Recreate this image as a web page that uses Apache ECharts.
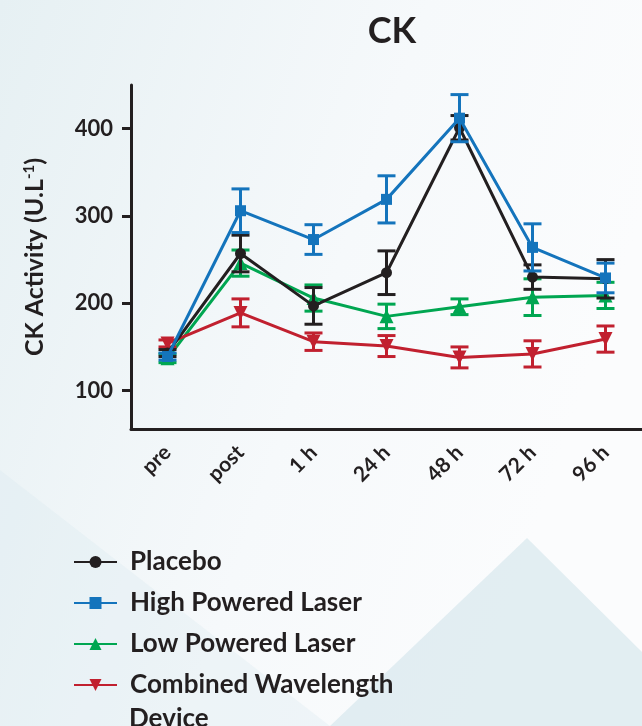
<!DOCTYPE html>
<html>
<head>
<meta charset="utf-8">
<script src="https://cdn.jsdelivr.net/npm/echarts@6/dist/echarts.min.js"></script>
<style>
  html, body { margin: 0; padding: 0; }
  #main { width: 642px; height: 726px; }
</style>
</head>
<body>
<div id="main"></div>
<script>
// time points
var categories = ['pre', 'post', '1 h', '24 h', '48 h', '72 h', '96 h'];
var yTicks = [100, 200, 300, 400];

// mean CK activity (U.L-1) and error (+/-) per group
var placebo = [143, 257, 197, 235, 401, 230, 228];
var placeboErr = [4, 21, 21, 25, 14, 14, 22];
var highLaser = [139, 306, 273, 319, 412, 264, 229];
var highLaserErr = [4, 25, 17, 27, 27, 27, 17];
var lowLaser = [137, 246, 206, 185, 196, 207, 209];
var lowLaserErr = [5, 15, 15, 14, 9, 21, 15];
var combined = [154, 189, 156, 151, 138, 142, 159];
var combinedErr = [4, 16, 10, 12, 12, 15, 15];

var FONT = 'Lato';
var INK = '#231f20';

function lineSeries(name, data, color, symbol, size, rotate, z) {
  return {
    name: name,
    type: 'line',
    data: data,
    z: z,
    symbol: symbol,
    symbolSize: size,
    symbolRotate: rotate,
    lineStyle: { color: color, width: 3 },
    itemStyle: { color: color },
    emphasis: { disabled: true },
    animation: false
  };
}

// vertical error bar with caps, drawn through the axes
function errorSeries(values, errs, color, z) {
  return {
    type: 'custom',
    z: z,
    silent: true,
    animation: false,
    data: values.map(function (v, i) { return [i, v - errs[i], v + errs[i]]; }),
    renderItem: function (params, api) {
      var x = api.value(0);
      var lo = api.coord([x, api.value(1)]);
      var hi = api.coord([x, api.value(2)]);
      var w = 9;
      var st = { stroke: color, lineWidth: 3 };
      return {
        type: 'group',
        children: [
          { type: 'line', shape: { x1: lo[0], y1: lo[1], x2: hi[0], y2: hi[1] }, style: st },
          { type: 'line', shape: { x1: lo[0] - w, y1: lo[1], x2: lo[0] + w, y2: lo[1] }, style: st },
          { type: 'line', shape: { x1: hi[0] - w, y1: hi[1], x2: hi[0] + w, y2: hi[1] }, style: st }
        ]
      };
    }
  };
}

var chart = echarts.init(document.getElementById('main'));
chart.setOption({
  backgroundColor: {
    type: 'linear', x: 0, y: 0, x2: 1, y2: 0.3,
    colorStops: [{ offset: 0, color: '#e6f0f3' }, { offset: 0.6, color: '#f6f9fb' }, { offset: 1, color: '#fbfcfd' }]
  },
  graphic: [
    { type: 'polygon', silent: true, z: 0, shape: { points: [[330, 726], [527, 538], [642, 652], [642, 726]] }, style: { fill: 'rgba(205,226,234,0.55)' } },
    { type: 'polygon', silent: true, z: 0, shape: { points: [[0, 470], [0, 726], [330, 726]] }, style: { fill: 'rgba(215,232,238,0.3)' } },
    {
      type: 'text', left: 129, top: 706, z: 10,
      style: { text: 'Device', font: 'bold 26px ' + FONT, fill: INK }
    }
  ],
  title: {
    text: 'CK',
    left: 387,
    top: 8,
    textAlign: 'center',
    textStyle: { fontFamily: FONT, fontSize: 36, fontWeight: 'bold', color: INK }
  },
  legend: {
    orient: 'vertical',
    left: 73,
    top: 548,
    padding: 0,
    itemWidth: 43,
    itemHeight: 15,
    itemGap: 13,
    data: ['Placebo', 'High Powered Laser', 'Low Powered Laser', 'Combined Wavelength Device'],
    formatter: function (name) {
      return name === 'Combined Wavelength Device' ? 'Combined Wavelength' : name;
    },
    textStyle: { fontFamily: FONT, fontSize: 26, fontWeight: 'bold', color: INK, lineHeight: 28, padding: [0, 0, 0, 8] }
  },
  grid: { left: 131, top: 85, bottom: 297, right: -14 },
  xAxis: {
    type: 'category',
    data: categories,
    axisLine: { lineStyle: { color: INK, width: 3 } },
    axisTick: { alignWithLabel: true, length: 8, lineStyle: { color: INK, width: 3 } },
    axisLabel: { rotate: 45, margin: 20, fontFamily: FONT, fontSize: 21, fontWeight: 'bold', color: INK }
  },
  yAxis: {
    type: 'value',
    min: 56,
    max: 450,
    name: '{a|CK Activity (U.L}{s|-1}{a|)}',
    nameLocation: 'middle',
    nameGap: 84,
    nameTextStyle: {
      rich: {
        a: { fontFamily: FONT, fontSize: 25, fontWeight: 'bold', color: INK },
        s: { fontFamily: FONT, fontSize: 15, fontWeight: 'bold', color: INK, verticalAlign: 'top' }
      }
    },
    splitLine: { show: false },
    axisLine: { show: true, lineStyle: { color: INK, width: 3 } },
    axisTick: { show: true, length: 9, customValues: yTicks, lineStyle: { color: INK, width: 3 } },
    axisLabel: { customValues: yTicks, margin: 18, fontFamily: FONT, fontSize: 22, fontWeight: 'bold', color: INK }
  },
  series: [
    errorSeries(lowLaser, lowLaserErr, '#00a651', 2),
    errorSeries(combined, combinedErr, '#c1202f', 3),
    errorSeries(placebo, placeboErr, INK, 4),
    errorSeries(highLaser, highLaserErr, '#1474bc', 5),
    lineSeries('Low Powered Laser', lowLaser, '#00a651', 'triangle', 14, 0, 2),
    lineSeries('Combined Wavelength Device', combined, '#c1202f', 'triangle', 14, 180, 3),
    lineSeries('Placebo', placebo, INK, 'circle', 11, 0, 4),
    lineSeries('High Powered Laser', highLaser, '#1474bc', 'rect', 11, 0, 5)
  ]
});
</script>
</body>
</html>
